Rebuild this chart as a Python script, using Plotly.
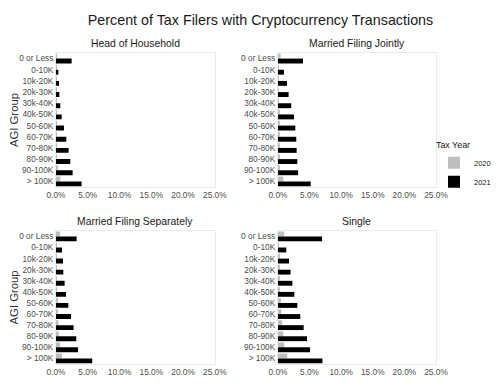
import plotly.graph_objects as go

agi_groups = ["0 or Less", "0-10K", "10k-20K", "20k-30K", "30k-40K", "40k-50K",
              "50-60K", "60-70K", "70-80K", "80-90K", "90-100K", "> 100K"]
panels = ["Head of Household", "Married Filing Jointly", "Married Filing Separately", "Single"]
x_ticks = [0, 5, 10, 15, 20, 25]
x_tick_labels = ["0.0%", "5.0%", "10.0%", "15.0%", "20.0%", "25.0%"]

hoh_2020 = [0.10, 0.05, 0.05, 0.05, 0.06, 0.07, 0.08, 0.10, 0.12, 0.15, 0.22, 0.68]
hoh_2021 = [2.46, 0.37, 0.47, 0.52, 0.68, 0.90, 1.26, 1.62, 1.99, 2.25, 2.62, 4.03]
mfj_2020 = [0.42, 0.10, 0.12, 0.14, 0.15, 0.16, 0.18, 0.20, 0.22, 0.26, 0.28, 0.84]
mfj_2021 = [3.97, 0.95, 1.43, 1.69, 2.10, 2.54, 2.75, 2.90, 2.96, 3.07, 3.20, 5.18]
mfs_2020 = [0.63, 0.10, 0.12, 0.12, 0.14, 0.15, 0.18, 0.25, 0.37, 0.45, 0.63, 0.94]
mfs_2021 = [3.25, 0.94, 1.10, 1.15, 1.36, 1.57, 1.94, 2.36, 2.77, 3.19, 3.46, 5.70]
sgl_2020 = [1.00, 0.10, 0.16, 0.20, 0.25, 0.30, 0.47, 0.53, 0.68, 0.84, 1.00, 1.47]
sgl_2021 = [6.98, 1.32, 1.75, 2.00, 2.28, 2.60, 3.07, 3.54, 4.07, 4.60, 5.08, 7.04]

series_2020 = [hoh_2020, mfj_2020, mfs_2020, sgl_2020]
series_2021 = [hoh_2021, mfj_2021, mfs_2021, sgl_2021]

FONT = "Liberation Sans, Arial, sans-serif"
GRAY = "#bebebe"
TICKCOL = "#4d4d4d"

x_domains = [[0.0, 0.418], [0.584, 1.0]]
y_domains = [[0.569, 1.0], [0.0, 0.428]]

fig = go.Figure()
annotations = []
for i in range(4):
    row, col = i // 2, i % 2
    sfx = "" if i == 0 else str(i + 1)
    xa, ya = "x" + sfx, "y" + sfx
    fig.add_trace(go.Bar(y=agi_groups, x=series_2020[i], orientation="h", name="2020",
                         marker=dict(color=GRAY, line=dict(width=0)),
                         legendgroup="2020", showlegend=(i == 0), xaxis=xa, yaxis=ya))
    fig.add_trace(go.Bar(y=agi_groups, x=series_2021[i], orientation="h", name="2021",
                         marker=dict(color="black", line=dict(width=0)),
                         legendgroup="2021", showlegend=(i == 0), xaxis=xa, yaxis=ya))
    xaxis = dict(domain=x_domains[col], anchor=ya, range=[0, 25], automargin=False,
                 tickmode="array", tickvals=x_ticks, ticktext=x_tick_labels, tickangle=0,
                 showgrid=False, zeroline=False, showline=True, mirror=True,
                 linecolor="#ebebeb", linewidth=1, ticks="",
                 tickfont=dict(size=8.3, color=TICKCOL, family=FONT))
    yaxis = dict(domain=y_domains[row], anchor=xa, automargin=False,
                 type="category", categoryorder="array", categoryarray=agi_groups,
                 tickmode="array", tickvals=agi_groups, autorange="reversed", tickangle=0,
                 showgrid=False, zeroline=False, showline=True, mirror=True,
                 linecolor="#ebebeb", linewidth=1, ticks="",
                 tickfont=dict(size=8.3, color=TICKCOL, family=FONT))
    if col == 0:
        yaxis["title"] = dict(text="AGI Group", font=dict(size=11.3, color="#333333", family=FONT),
                              standoff=2)
    fig.layout["xaxis" + sfx] = xaxis
    fig.layout["yaxis" + sfx] = yaxis
    annotations.append(dict(text=panels[i], xref="paper", yref="paper",
                            x=sum(x_domains[col]) / 2, y=y_domains[row][1],
                            xanchor="center", yanchor="bottom", yshift=2, showarrow=False,
                            font=dict(size=10.4, color="#1a1a1a", family=FONT)))

# page body adds an 8px offset; margins are set to compensate
fig.update_layout(
    width=500, height=389,
    margin=dict(l=48, r=72, t=45, b=33, autoexpand=False),
    paper_bgcolor="white", plot_bgcolor="white",
    barmode="group", bargap=0.12, bargroupgap=0.0,
    annotations=annotations,
    title=dict(text="Percent of Tax Filers with Cryptocurrency Transactions",
               x=0.505, xanchor="center", y=0.969, yanchor="middle",
               font=dict(size=14.3, color="#1a1a1a", family=FONT)),
    legend=dict(title=dict(text="Tax Year", font=dict(size=8.9, color="#1a1a1a", family=FONT)),
                font=dict(size=7.5, color="#1a1a1a", family=FONT),
                bgcolor="rgba(0,0,0,0)",
                xref="container", yref="container",
                x=0.852, xanchor="left", y=0.669, yanchor="top",
                itemwidth=30, tracegroupgap=0),
    font=dict(family=FONT),
)

fig.write_html("out.html")
